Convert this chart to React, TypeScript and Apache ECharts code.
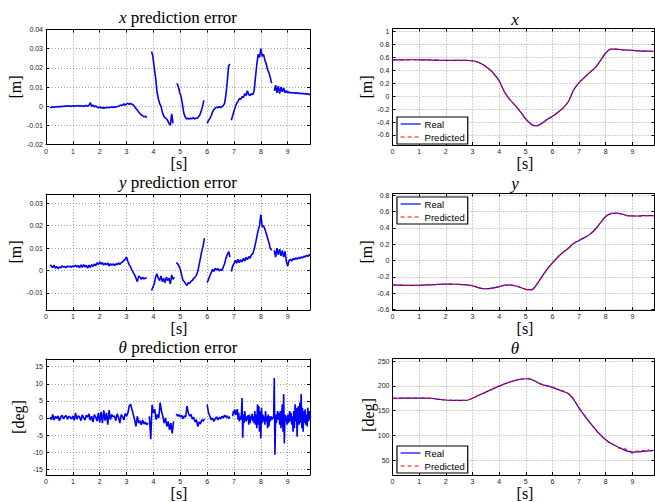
import React, { useEffect, useRef } from "react";
import * as echarts from "echarts";

// ---------- time axis ----------
const X_MAX = 9.83;
const X_TICKS = [0, 1, 2, 3, 4, 5, 6, 7, 8, 9];
const ERR_STEP = 0.05;
const THETA_FINE_STEP = 0.025;
const TRUE_STEP = 0.2;
const THETA_PRED_STEP = 0.1;

// ---------- x prediction error (mm), segments ----------
const xErrStarts = [0.15, 3.93, 4.88, 6.0, 6.9, 8.5];
const xErrS1 = [
  -0.5, -0.8, -0.3, -0.6, -0.4, -0.2, -0.5, -0.1,
  -0.3, 0, -0.2, 0.1, -0.1, 0.2, 0, 0.1, -0.1, 0.2,
  0, 0.2, 0.1, 0.3, 0, 0.2, 0.1, -0.1, 0.2, 0.3,
  0, 0.4, 1.8, -0.2, 0.6, -0.3, 0.2, -0.5, -0.8, -0.4,
  -1.0, -0.6, -1.2, -0.7, -0.9, -0.5, -0.8, -0.6, -0.4, -0.7,
  -0.3, -0.5, -0.2, 0, 0.3, 0.6, 0.4, 1.3, 0.5, 1.2,
  1.5, 0.9, 1.4, 1.0, 0.6, -0.2, -1.2, -2.0, -3.0, -3.8,
  -4.6, -5.0, -5.6, -5.2, -6.0,
];
const xErrS2 = [28.5, 26, 20, 15, 8, 4, 1.5, 0, -3, -5, -6, -6.5, -7.5, -9, -10, -4, -9];
const xErrS3 = [12, 10, 7, 5, 1, -3.5, -5.5, -6.8, -6.2, -6.8, -6.3, -6.6, -6, -6.7, -6.2, -6.5, -5.5, -4.5, -2.5, 0, 3];
const xErrS4 = [-9, -7.5, -6.5, -5, -3, -1.8, -1, -0.5, -0.8, -0.3, -0.7, -0.2, 0.3, 1.5, 6, 13, 21, 22];
const xErrS5 = [
  -7.3, -5, -2.5, -0.3, 1.5, 2.5, 4, 3.5, 5, 4.5, 6.5, 5.5, 8, 6, 5.5, 6.5, 6, 8,
  15, 22, 27, 25.5, 30, 26, 27, 24, 22, 19, 17.5, 15, 12,
];
const xErrS6 = [
  8, 11, 7, 10.5, 6.5, 10, 7.5, 9.5, 7, 8, 7, 7.5, 6.8, 7.2, 6.9, 7, 6.7, 7, 6.6, 6.8,
  6.5, 6.7, 6.4, 6.6, 6.2, 6.5, 6, 6.3,
];

// ---------- y prediction error (mm), segments ----------
const yErrStarts = [0.15, 3.93, 4.85, 6.0, 6.9, 8.5];
const yErrS1 = [
  2.5, 2, 1.2, 2.4, 1, 1.8, 0.8, 1.6,
  1.2, 2, 1.5, 1.7, 1.3, 2, 1.6, 1.9, 1.4, 2.1,
  1.6, 2.4, 1.5, 2.2, 1.2, 2.5, 1.4, 2.6, 1.6, 2.3,
  1, 2.4, 1.3, 2.6, 1.8, 2.9, 2.1, 3.4, 2.6, 3.8,
  2.8, 3.5, 2.4, 3.2, 2.6, 3.3, 2, 3, 2.4, 2.9,
  2.2, 3, 2.5, 3.4, 2.7, 3.5, 3.8, 4.5, 5, 6,
  4, 2.5, 1.5, 0.2, -1, -2, -3.5, -5, -2.5, -3,
  -4, -3, -3.8, -3.4, -3.6,
];
const yErrS2 = [-9, -7.5, -6, -3, -1.5, -3.5, -4.5, -2.5, -5, -3.5, -5.5, -3, -4.5, -3.5, -6, -2, -4, -3];
const yErrS3 = [3.5, 3, 2, 0.5, -2, -4.5, -5, -6, -6.7, -5.5, -5.8, -4.8, -4.5, -3.5, -3, -2.2, -0.5, 2.5, 5.5, 8.5, 11, 14.5];
const yErrS4 = [-5.5, -4, -2.5, -1, 0.5, -0.5, 1, 0.2, 0.8, -0.2, 0.5, 0, 1.5, 3, 5.5, 7, 8.5, 6];
const yErrS5 = [
  -0.5, 2, 3, 4.5, 3.2, 5, 3.5, 4.8, 3.8, 5.5, 4.2, 5.8, 4.8, 6.2, 5.5, 7, 7.5, 9.5,
  12, 15, 18, 20, 25, 19.5, 20, 18.5, 16.5, 14.5, 12.5, 10, 9,
];
const yErrS6 = [
  9, 6, 10, 7, 9.5, 6.5, 9, 6, 8.5, 4, 2, 4.5, 5, 4.2, 5.3, 4.8, 5.6, 5, 5.8, 5.3,
  6, 5.6, 6.4, 6, 6.8, 6.3, 7, 6.7,
];

// ---------- theta prediction error (deg), segments ----------
const thErrStarts = [0.15, 3.85, 4.85, 6.0, 6.95];
const thErrS1 = [
  0.2, -0.5, 1, -0.6, 0.5, -0.2, 0.6, -0.8,
  0.3, 0.8, -0.3, 0.4, 0.7, -0.4, 0.5, 0.2, -0.3, 0.6,
  -0.7, 1.5, -0.4, 0.6, 0.3, -0.8, 0.9, 0.1, -0.6, 0.8,
  0.2, 1.2, -0.7, 0.5, -1.2, 1, 0.3, -0.9, 1.5, -1.3,
  1.8, -1.5, 2.2, -0.8, 1.5, -2, 2.3, -0.5, 1, 0.3,
  0.6, -0.8, 1.2, 0.2, -1.5, 1, 0.4, -0.6, 1.3, 0.5,
  1.5, 3.5, 4, 2.5, 1, -0.5, -2.5, 0.5, -1.5, -0.8,
  -2, -0.6, -1.8, -1.2, -2, -1.5,
];
const thErrS2 = [0.5, -6.2, 3.8, 1.5, 2.5, -0.5, 1, 0, 4.5, 2, 0.5, -1.5, 0, -2.5, -1, -3.5, -1.5, -4.5, -1];
const thErrS3 = [1.2, 0.5, 1, 0.3, 0.8, -0.2, 0.6, 0.2, 3.5, 1.5, 0.5, 1, -0.3, 0.2, -1.2, -0.5, -2.5, -1.2, -1.8, -0.5, -1, -0.3];
const thErrS4 = [4, 1.5, 0.5, -0.5, 0, -1, -0.3, 0.3, -0.6, 0.2, -0.3, 0.5, 0, 0.8, 0.2, 0.6, -0.2, 0.4];
const thErrS5 = [
  0.5, 2, 1.2, 2.5, 0.8, 2.2, 1, 2.6,
  -0.5, 1.5, -1, 0.5, -0.5, 1, 5.8, -5.8,
  1, -1.5, 2, 0, -1, 0.5, -0.5, 0.8,
  -2, 1, -1.5, 0.5, -0.5, 1.2, -1, 0.5,
  -1.5, 2, -2, 1, -3, 4, -2, 3.5,
  -4, 2, -6, 3, -1.5, 1, -1, 0.5,
  -2, 2, -1, 0.5, -3, 1, -2.5, 0.5,
  -1, 0.5, 0, -0.5, 0.3, 0, 11.7, -10.8,
  1, -1.5, 0.5, 2, -0.5, 1.5, -2, 2,
  -3, 1, 4, -4, 7, -7.5, 1, -1,
  0.5, -2, 1, -1.5, 0, 2, -1, 1.5,
  -2, 0.5, -4, 2, -3, 4, -1, 3,
  -5.5, 2, 3.5, -2, 4.5, -1.5, 7, -3,
  3, -4, 2, -1.5, 2.5, -2, 1, -2.5,
  3, -1, 2, -0.5, 0.5,
];

// ---------- real trajectories (step 0.2 s from 0) ----------
const xReal = [
  0.565, 0.565, 0.565, 0.566, 0.566, 0.565, 0.564, 0.562, 0.56, 0.558,
  0.556, 0.555, 0.555, 0.556, 0.555, 0.55, 0.53, 0.49, 0.43, 0.35,
  0.24, 0.07, -0.05, -0.14, -0.24, -0.35, -0.43, -0.46, -0.42, -0.36,
  -0.31, -0.25, -0.18, -0.08, 0.1, 0.21, 0.29, 0.37, 0.44, 0.55,
  0.67, 0.73, 0.73, 0.72, 0.715, 0.71, 0.705, 0.7, 0.7, 0.695,
];
const xPredicted = [
  0.566, 0.564, 0.566, 0.565, 0.567, 0.564, 0.565, 0.561, 0.561, 0.557,
  0.557, 0.554, 0.556, 0.555, 0.556, 0.549, 0.531, 0.488, 0.432, 0.348,
  0.245, 0.068, -0.052, -0.138, -0.243, -0.348, -0.432, -0.458, -0.422, -0.358,
  -0.312, -0.248, -0.182, -0.078, 0.098, 0.212, 0.288, 0.372, 0.438, 0.553,
  0.672, 0.732, 0.728, 0.722, 0.713, 0.712, 0.703, 0.701, 0.698, 0.696,
];
const yReal = [
  -0.3, -0.302, -0.304, -0.305, -0.305, -0.304, -0.302, -0.298, -0.295, -0.292,
  -0.29, -0.29, -0.292, -0.295, -0.298, -0.31, -0.33, -0.345, -0.345, -0.335,
  -0.32, -0.305, -0.3, -0.31, -0.33, -0.355, -0.36, -0.3, -0.2, -0.11,
  -0.03, 0.04, 0.1, 0.15, 0.21, 0.245, 0.28, 0.32, 0.38, 0.46,
  0.54, 0.575, 0.58, 0.57, 0.55, 0.545, 0.545, 0.55, 0.55, 0.55,
];
const yPredicted = [
  -0.301, -0.301, -0.305, -0.304, -0.306, -0.303, -0.303, -0.297, -0.296, -0.291,
  -0.291, -0.289, -0.293, -0.294, -0.299, -0.309, -0.331, -0.344, -0.346, -0.334,
  -0.321, -0.304, -0.301, -0.309, -0.331, -0.354, -0.361, -0.298, -0.202, -0.108,
  -0.032, 0.042, 0.098, 0.152, 0.208, 0.247, 0.278, 0.322, 0.378, 0.462,
  0.538, 0.577, 0.578, 0.571, 0.549, 0.546, 0.544, 0.551, 0.549, 0.551,
];
const thReal = [
  175, 175, 175.2, 175.3, 175.3, 175.5, 175.4, 175, 174, 172.5,
  171.5, 171, 170.8, 170.6, 171, 175, 180, 185, 190, 195,
  199.5, 204, 208, 211, 213.5, 214.5, 213, 208, 203, 200,
  197, 193, 189, 184, 172, 155, 140, 126, 113, 101,
  91, 84, 78, 73, 68.5, 66, 66.5, 67.5, 68.5, 69.5,
];
// predicted theta (step 0.1 s from 0)
const thPredicted = [
  175, 175.5, 174.8, 175.3, 175.6, 175, 175.4, 175.8, 175.2, 175.5,
  175.8, 175.3, 175.6, 174.9, 175.2, 174.3, 173.5, 172.9, 172.2, 171.8,
  171.3, 170.5, 171.2, 170.6, 171, 170.4, 170.9, 170.5, 171.3, 172.8,
  175.5, 178, 180.5, 183.5, 185, 187.5, 190.5, 192, 195.5, 197,
  201, 201.5, 204.5, 205.5, 208.5, 209.5, 211, 212.5, 213.8, 214.5,
  214.8, 215.5, 213.5, 211, 208.5, 205, 203.5, 201, 200.5, 198.8,
  197.5, 195, 193.5, 191, 189.5, 187, 184.5, 181, 173, 164,
  156, 148, 141, 133, 125.5, 119, 113, 106, 101.5, 95,
  92, 86, 84.5, 80, 78.5, 74, 73, 75, 68.5, 69.5,
  63, 67, 68, 66, 69.5, 67, 70, 68, 71,
];

// ---------- y ticks ----------
const xErrTicks = [-0.02, -0.01, 0, 0.01, 0.02, 0.03, 0.04];
const yErrTicks = [-0.01, 0, 0.01, 0.02, 0.03];
const thErrTicks = [-15, -10, -5, 0, 5, 10, 15];
const xTicks = [-0.6, -0.4, -0.2, 0, 0.2, 0.4, 0.6, 0.8, 1];
const yTicks = [-0.6, -0.4, -0.2, 0, 0.2, 0.4, 0.6, 0.8];
const thTicks = [50, 100, 150, 200, 250];

const TICK_FONT = "'Liberation Sans', Arial, sans-serif";
const SERIF = "'Liberation Serif', 'Times New Roman', serif";
const BLUE = "#0000ff";
const RED = "#ff0000";

function seg(start: number, step: number, vals: number[], scale = 1) {
  return vals.map((v, i) => [Math.round((start + i * step) * 1000) / 1000, v * scale]);
}

const GRIDS = [
  { left: 46, top: 29.5, width: 264, height: 115 },
  { left: 46, top: 194, width: 264, height: 116 },
  { left: 46, top: 359, width: 264, height: 116 },
  { left: 392.5, top: 28.5, width: 262, height: 116.5 },
  { left: 392.5, top: 193.5, width: 262, height: 116.5 },
  { left: 392.5, top: 358.5, width: 262, height: 116.5 },
];
const Y_RANGES: [number, number, number[], number][] = [
  [-0.02, 0.04, xErrTicks, 6],
  [-0.0177, 0.0342, yErrTicks, 5],
  [-16.7, 17.25, thErrTicks, 5],
  [-0.755, 1.05, xTicks, 8],
  [-0.607, 0.821, yTicks, 7],
  [19.7, 255.5, thTicks, 5],
];

function fmt(v: number) {
  return String(Math.round(v * 1000) / 1000);
}

function buildOption() {
  const xAxis: any[] = [];
  const yAxis: any[] = [];
  const line = { color: "#000", width: 1 };
  const split = { show: true, lineStyle: { type: [1, 2], color: "#8c8c8c", width: 0.8 } };
  GRIDS.forEach((_, i) => {
    const [mn, mx, ticks, sn] = Y_RANGES[i];
    xAxis.push({
      type: "value", gridIndex: i, position: "bottom", min: 0, max: X_MAX, splitNumber: 10,
      axisLine: { show: true, onZero: false, lineStyle: line },
      axisTick: { show: true, inside: true, length: 3, customValues: X_TICKS, lineStyle: line },
      axisLabel: { show: true, customValues: X_TICKS, margin: 3, fontSize: 7, fontFamily: TICK_FONT, color: "#222", formatter: fmt },
      splitLine: split,
    });
    xAxis.push({
      type: "value", gridIndex: i, position: "top", min: 0, max: X_MAX, splitNumber: 10,
      axisLine: { show: true, onZero: false, lineStyle: line },
      axisTick: { show: true, inside: true, length: 3, customValues: X_TICKS, lineStyle: line },
      axisLabel: { show: false }, splitLine: { show: false },
    });
    yAxis.push({
      type: "value", gridIndex: i, position: "left", min: mn, max: mx, splitNumber: sn,
      axisLine: { show: true, onZero: false, lineStyle: line },
      axisTick: { show: true, inside: true, length: 3, customValues: ticks, lineStyle: line },
      axisLabel: { show: true, customValues: ticks, margin: 3, fontSize: 7, fontFamily: TICK_FONT, color: "#222", formatter: fmt },
      splitLine: split,
    });
    yAxis.push({
      type: "value", gridIndex: i, position: "right", min: mn, max: mx, splitNumber: sn,
      axisLine: { show: true, onZero: false, lineStyle: line },
      axisTick: { show: true, inside: true, length: 3, customValues: ticks, lineStyle: line },
      axisLabel: { show: false }, splitLine: { show: false },
    });
  });

  const errLine = (name: string, grid: number, data: any[]) => ({
    name, type: "line", xAxisIndex: grid * 2, yAxisIndex: grid * 2, data,
    symbol: "none", lineStyle: { color: BLUE, width: 1.6 }, itemStyle: { color: BLUE }, z: 3,
  });
  const series: any[] = [];
  const xs = [xErrS1, xErrS2, xErrS3, xErrS4, xErrS5, xErrS6];
  xs.forEach((s, k) => series.push(errLine("x error", 0, seg(xErrStarts[k], ERR_STEP, s, 0.001))));
  const ys = [yErrS1, yErrS2, yErrS3, yErrS4, yErrS5, yErrS6];
  ys.forEach((s, k) => series.push(errLine("y error", 1, seg(yErrStarts[k], ERR_STEP, s, 0.001))));
  const ts = [thErrS1, thErrS2, thErrS3, thErrS4];
  ts.forEach((s, k) => series.push(errLine("theta error", 2, seg(thErrStarts[k], ERR_STEP, s))));
  series.push(errLine("theta error", 2, seg(thErrStarts[4], THETA_FINE_STEP, thErrS5)));

  const realLine = (grid: number, data: any[]) => ({
    name: "Real", type: "line", xAxisIndex: grid * 2, yAxisIndex: grid * 2, data, smooth: 0.4,
    symbol: "none", lineStyle: { color: BLUE, width: 1.2 }, itemStyle: { color: BLUE }, z: 3,
  });
  const predLine = (grid: number, data: any[], smooth: number) => ({
    name: "Predicted", type: "line", xAxisIndex: grid * 2, yAxisIndex: grid * 2, data, smooth,
    symbol: "none", lineStyle: { color: RED, width: 1.2, type: [4, 3] }, itemStyle: { color: RED }, z: 4,
  });
  series.push(realLine(3, seg(0, TRUE_STEP, xReal)));
  series.push(predLine(3, seg(0, TRUE_STEP, xPredicted), 0.4));
  series.push(realLine(4, seg(0, TRUE_STEP, yReal)));
  series.push(predLine(4, seg(0, TRUE_STEP, yPredicted), 0.4));
  series.push(realLine(5, seg(0, TRUE_STEP, thReal)));
  series.push(predLine(5, seg(0, THETA_PRED_STEP, thPredicted), 0));

  const legendBase = {
    orient: "vertical", left: 397, itemWidth: 20, itemHeight: 8, itemGap: 3,
    padding: [2, 3, 2, 3], borderColor: "#000", borderWidth: 1.2, borderRadius: 0,
    backgroundColor: "#fff", selectedMode: false,
    itemStyle: { opacity: 0 },
    lineStyle: { width: 1.2 },
    textStyle: { fontSize: 9.5, fontFamily: TICK_FONT, color: "#000", padding: [0, 0, 0, -1] },
    data: ["Real", "Predicted"],
  };
  const legend = [
    { ...legendBase, top: 117 },
    { ...legendBase, top: 197 },
    { ...legendBase, top: 446 },
  ];

  const txt = (text: string, x: number, y: number, size: number, rotate = 0) => ({
    type: "text", x, y, rotation: rotate, silent: true,
    style: {
      text, fontSize: size, fontFamily: SERIF, fill: "#000",
      textAlign: "center", textVerticalAlign: "middle",
      rich: { i: { fontStyle: "italic", fontSize: size, fontFamily: SERIF, fill: "#000" } },
    },
  });
  const graphic = [
    txt("{i|x} prediction error", 178, 17, 17),
    txt("{i|y} prediction error", 178, 182, 17),
    txt("{i|θ} prediction error", 178, 347, 17),
    txt("{i|x}", 515, 19, 17),
    txt("{i|y}", 515, 183, 17),
    txt("{i|θ}", 515, 348, 17),
    txt("[s]", 179, 163, 16), txt("[s]", 179, 328, 16), txt("[s]", 179, 493, 16),
    txt("[s]", 525, 163, 16), txt("[s]", 525, 328, 16), txt("[s]", 525, 493, 16),
    txt("[m]", 15, 87, 16, Math.PI / 2), txt("[m]", 15, 252, 16, Math.PI / 2),
    txt("[deg]", 18, 417, 16, Math.PI / 2),
    txt("[m]", 366, 87, 16, Math.PI / 2), txt("[m]", 366, 252, 16, Math.PI / 2),
    txt("[deg]", 368, 415, 16, Math.PI / 2),
  ];

  return {
    animation: false,
    backgroundColor: "#fff",
    grid: GRIDS.map((g) => ({ ...g, containLabel: false })),
    xAxis, yAxis, series, legend, graphic,
  };
}

export default function App() {
  const ref = useRef<HTMLDivElement>(null);
  useEffect(() => {
    if (!ref.current) return;
    const chart = echarts.init(ref.current, undefined, { renderer: "svg" });
    chart.setOption(buildOption() as any);
    return () => chart.dispose();
  }, []);
  return (
    <div
      ref={ref}
      style={{ position: "absolute", left: 0, top: 0, width: 655, height: 502, background: "#fff" }}
    />
  );
}
